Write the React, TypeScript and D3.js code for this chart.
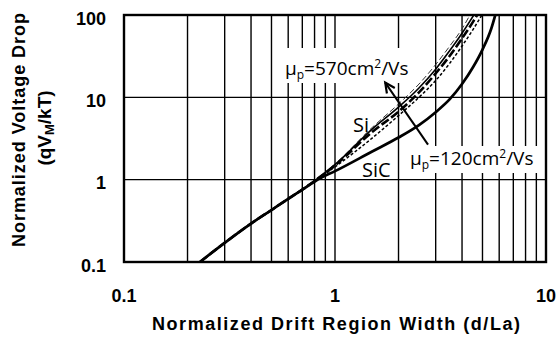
import React from "react";
import * as d3 from "d3";

// Axis ticks
const xMajorTicks = [0.1, 1, 10];
const xTickLabels = ["0.1", "1", "10"];
const yMajorTicks = [0.1, 1, 10, 100];
const yTickLabels = ["0.1", "1", "10", "100"];

// Curves: normalized drift width (d/La) vs normalized voltage drop (qVM/kT)
const siThinDashX = [0.229, 0.3, 0.4, 0.5, 0.6, 0.7, 0.85, 1.0, 1.5, 2.0, 2.5, 3.0, 3.5, 4.0, 4.36];
const siThinDashY = [0.1, 0.171, 0.293, 0.428, 0.585, 0.758, 1.1, 1.55, 4.3, 8.3, 14.5, 25, 42, 68, 100];

const siSolidX = [0.229, 0.3, 0.4, 0.5, 0.6, 0.7, 0.85, 1.0, 1.5, 2.0, 2.5, 3.0, 3.5, 4.0, 4.55];
const siSolidY = [0.1, 0.171, 0.293, 0.428, 0.585, 0.758, 1.09, 1.52, 4.1, 7.6, 13, 22, 37, 60, 100];

const siThickDashX = [0.229, 0.3, 0.4, 0.5, 0.6, 0.7, 0.85, 1.0, 1.5, 2.0, 2.5, 3.0, 3.5, 4.0, 4.5, 4.72];
const siThickDashY = [0.1, 0.171, 0.293, 0.428, 0.585, 0.758, 1.08, 1.49, 3.8, 6.7, 11.5, 19.5, 32, 52, 82, 100];

const siShortDashX = [0.229, 0.3, 0.4, 0.5, 0.6, 0.7, 0.85, 1.0, 1.5, 2.0, 2.5, 3.0, 3.5, 4.0, 4.5, 4.97];
const siShortDashY = [0.1, 0.171, 0.293, 0.428, 0.585, 0.758, 1.06, 1.43, 3.2, 6.0, 10, 16, 26, 42, 66, 100];

const sicX = [0.229, 0.3, 0.4, 0.5, 0.6, 0.7, 0.85, 1.0, 1.5, 2.0, 2.5, 3.0, 3.5, 4.0, 4.5, 5.0, 5.5, 5.75];
const sicY = [0.1, 0.171, 0.293, 0.428, 0.585, 0.758, 1.04, 1.27, 2.2, 3.25, 4.6, 6.6, 9.5, 14.5, 23, 38, 68, 100];

// Annotation anchors in data units
const arrowFrom = [2.76, 2.66];
const arrowTo = [1.73, 15.1];

const W = 559;
const H = 338;
const plot = { left: 124, right: 546, top: 15, bottom: 262 };

const x = d3.scaleLog().domain([0.1, 10]).range([plot.left, plot.right]);
const y = d3.scaleLog().domain([0.1, 100]).range([plot.bottom, plot.top]);

const xGrid: number[] = [];
for (const dec of [0.1, 1]) for (let k = 1; k <= 9; k++) xGrid.push(dec * k);
xGrid.push(10);

const line = d3
  .line<[number, number]>()
  .x((d) => x(d[0]))
  .y((d) => y(d[1]))
  .curve(d3.curveMonotoneX);

const zip = (xs: number[], ys: number[]) => xs.map((v, i) => [v, ys[i]] as [number, number]);

const series = [
  { xs: siThinDashX, ys: siThinDashY, w: 1, dash: "6,3", color: "#333" },
  { xs: siSolidX, ys: siSolidY, w: 1.6, dash: undefined, color: "#000" },
  { xs: siThickDashX, ys: siThickDashY, w: 2.6, dash: "9,3", color: "#000" },
  { xs: siShortDashX, ys: siShortDashY, w: 1.5, dash: "3,2", color: "#000" },
  { xs: sicX, ys: sicY, w: 2.7, dash: undefined, color: "#000" },
];

const labelFont = "'Open Sans', 'Noto Sans', sans-serif";
const axisFont = "'Liberation Sans', Arial, sans-serif";

export default function App() {
  const ax0 = x(arrowFrom[0]);
  const ay0 = y(arrowFrom[1]);
  const ax1 = x(arrowTo[0]);
  const ay1 = y(arrowTo[1]);
  const ang = Math.atan2(ay1 - ay0, ax1 - ax0);
  const headLen = 11;
  const h1 = [ax1 - headLen * Math.cos(ang - 0.45), ay1 - headLen * Math.sin(ang - 0.45)];
  const h2 = [ax1 - headLen * Math.cos(ang + 0.45), ay1 - headLen * Math.sin(ang + 0.45)];

  return (
    <svg
      width={W}
      height={H}
      style={{ position: "absolute", left: 0, top: 0, background: "#fff" }}
    >
      <defs>
        <clipPath id="plotClip">
          <rect x={plot.left} y={plot.top} width={plot.right - plot.left} height={plot.bottom - plot.top} />
        </clipPath>
      </defs>

      {/* grid */}
      {xGrid.map((v, i) => (
        <line key={"gx" + i} x1={x(v)} x2={x(v)} y1={plot.top} y2={plot.bottom} stroke="#000" strokeWidth={1.4} />
      ))}
      {yMajorTicks.map((v, i) => (
        <line key={"gy" + i} x1={plot.left} x2={plot.right} y1={y(v)} y2={y(v)} stroke="#000" strokeWidth={1.4} />
      ))}

      {/* label backgrounds */}
      <rect x={280} y={48} width={138} height={35} fill="#fff" />
      <rect x={404} y={146} width={140} height={27} fill="#fff" />

      {/* curves */}
      <g clipPath="url(#plotClip)">
        {series.map((s, i) => (
          <path
            key={"s" + i}
            d={line(zip(s.xs, s.ys)) || ""}
            fill="none"
            stroke={s.color}
            strokeWidth={s.w}
            strokeDasharray={s.dash}
          />
        ))}
      </g>

      {/* frame */}
      <rect
        x={plot.left}
        y={plot.top}
        width={plot.right - plot.left}
        height={plot.bottom - plot.top}
        fill="none"
        stroke="#000"
        strokeWidth={2.4}
      />

      {/* arrow */}
      <line x1={ax0} y1={ay0} x2={ax1} y2={ay1} stroke="#000" strokeWidth={2} />
      <path d={`M${h1[0]},${h1[1]} L${ax1},${ay1} L${h2[0]},${h2[1]}`} fill="none" stroke="#000" strokeWidth={2.2} />

      {/* annotations */}
      <text x={285} y={75} fontFamily={labelFont} fontSize={19} fill="#000">
        μ<tspan fontSize={12} dy={4}>p</tspan>
        <tspan dy={-4}>=570cm</tspan>
        <tspan fontSize={12} dy={-7}>2</tspan>
        <tspan dy={7}>/Vs</tspan>
      </text>
      <text x={410} y={165} fontFamily={labelFont} fontSize={19} fill="#000">
        μ<tspan fontSize={12} dy={4}>p</tspan>
        <tspan dy={-4}>=120cm</tspan>
        <tspan fontSize={12} dy={-7}>2</tspan>
        <tspan dy={7}>/Vs</tspan>
      </text>
      <text x={353} y={132} fontFamily={labelFont} fontSize={20} fill="#000">Si</text>
      <text x={362} y={177} fontFamily={labelFont} fontSize={20} fill="#000">SiC</text>

      {/* tick labels */}
      {xMajorTicks.map((v, i) => (
        <text key={"xt" + i} x={x(v)} y={302} textAnchor="middle" fontFamily={axisFont} fontWeight="bold" fontSize={18} fill="#000">
          {xTickLabels[i]}
        </text>
      ))}
      {yMajorTicks.map((v, i) => (
        <text key={"yt" + i} x={106} y={y(v) + 9.5} textAnchor="end" fontFamily={axisFont} fontWeight="bold" fontSize={18} fill="#000">
          {yTickLabels[i]}
        </text>
      ))}

      {/* axis titles */}
      <text x={336} y={330} textAnchor="middle" fontFamily={axisFont} fontWeight="bold" fontSize={18} fill="#000" textLength={368} lengthAdjust="spacing">
        Normalized Drift Region Width (d/La)
      </text>
      <text transform="translate(25,130) rotate(-90)" textAnchor="middle" fontFamily={axisFont} fontWeight="bold" fontSize={18} fill="#000" textLength={234} lengthAdjust="spacing">
        Normalized Voltage Drop
      </text>
      <text transform="translate(51,128) rotate(-90)" textAnchor="middle" fontFamily={axisFont} fontWeight="bold" fontSize={19} fill="#000">
        (qV<tspan fontSize={13} dy={3}>M</tspan>
        <tspan dy={-3}>/kT)</tspan>
      </text>
    </svg>
  );
}
